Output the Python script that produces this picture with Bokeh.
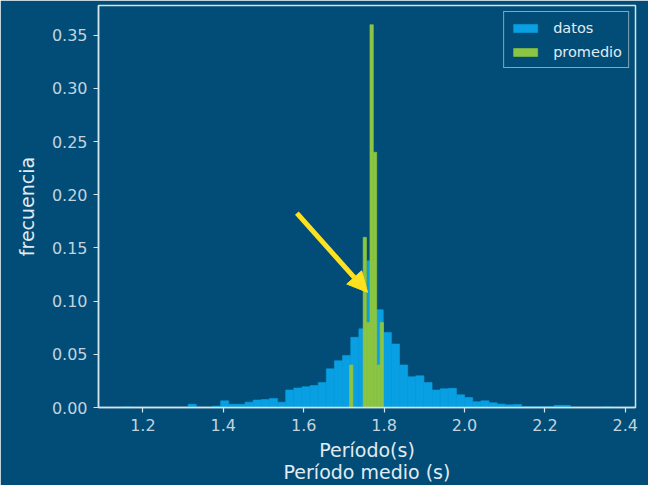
import numpy as np
from bokeh.plotting import figure
from bokeh.models import Range1d, FixedTicker, NumeralTickFormatter, Arrow, NormalHead, ColumnDataSource
from bokeh.embed import file_html
from bokeh.resources import INLINE

# ---- data ----
datos_inicio = 1.1505
datos_fin = 2.3645
datos_frecuencia = [
    0.0005, 0, 0, 0, 0, 0, 0, 0, 0.003, 0,
    0, 0.0013, 0.0063, 0.003, 0.003, 0.005, 0.007, 0.0075, 0.0085, 0.005,
    0.0164, 0.0183, 0.0195, 0.0207, 0.0235, 0.0364, 0.044, 0.049, 0.066, 0.074,
    0.138, 0.092, 0.0706, 0.0597, 0.040, 0.0289, 0.0298, 0.0235, 0.0164, 0.0176,
    0.018, 0.012, 0.0094, 0.0054, 0.0063, 0.0044, 0.0032, 0.0025, 0.0028, 0.0006,
    0.0006, 0.0006, 0.0006, 0.002, 0.002, 0, 0, 0, 0, 0.0005,
]
promedio_inicio = 1.7140
promedio_fin = 1.7987
promedio_frecuencia = [0.04, 0, 0, 0, 0.16, 0.08, 0.36, 0.24, 0.04, 0.08]

x_ticks = [1.2, 1.4, 1.6, 1.8, 2.0, 2.2, 2.4]
y_ticks = [0.0, 0.05, 0.10, 0.15, 0.20, 0.25, 0.30, 0.35]

flecha_punta = (1.7588, 0.1083)
flecha_cola = (1.583, 0.1827)

X_MIN, X_MAX = 1.0895, 2.4255

# ---- styles ----
BG = "#014d77"
AZUL = "#08a0e2"
VERDE = "#8cc541"
AMARILLO = "#ffe11f"
SPINE = "#d4e2ea"
TICKTXT = "#c3d3de"
LABTXT = "#e2ebf1"
FONT = "DejaVu Sans"

d_edges = np.linspace(datos_inicio, datos_fin, len(datos_frecuencia) + 1)
p_edges = np.linspace(promedio_inicio, promedio_fin, len(promedio_frecuencia) + 1)

src_d = ColumnDataSource(dict(left=d_edges[:-1], right=d_edges[1:], top=datos_frecuencia))
src_p = ColumnDataSource(dict(left=p_edges[:-1], right=p_edges[1:], top=promedio_frecuencia))

p = figure(width=648, height=485, output_backend="svg", toolbar_location=None, title=None,
           x_range=Range1d(X_MIN, X_MAX), y_range=Range1d(0, 0.378),
           min_border_left=98, min_border_right=13, min_border_top=5, min_border_bottom=78,
           background_fill_color=BG, border_fill_color=BG,
           outline_line_color=SPINE, outline_line_width=1.5)

p.quad(left="left", right="right", bottom=0, top="top", source=src_d,
       fill_color=AZUL, line_color=AZUL, line_width=0.6, legend_label="datos")
p.quad(left="left", right="right", bottom=0, top="top", source=src_p,
       fill_color=VERDE, line_color=VERDE, line_width=0.6, legend_label="promedio")

p.add_layout(Arrow(end=NormalHead(size=20, fill_color=AMARILLO, line_color=AMARILLO),
                   x_start=flecha_cola[0], y_start=flecha_cola[1],
                   x_end=flecha_punta[0], y_end=flecha_punta[1],
                   line_color=AMARILLO, line_width=5))

p.xgrid.visible = False
p.ygrid.visible = False

for ax in (p.xaxis[0], p.yaxis[0]):
    ax.axis_line_color = SPINE
    ax.axis_line_width = 1.5
    ax.major_tick_line_color = SPINE
    ax.major_tick_line_width = 1.2
    ax.major_tick_out = 5
    ax.major_tick_in = 0
    ax.minor_tick_line_color = None
    ax.major_label_text_color = TICKTXT
    ax.major_label_text_font = FONT
    ax.major_label_text_font_size = "16px"
    ax.axis_label_text_color = LABTXT
    ax.axis_label_text_font = FONT
    ax.axis_label_text_font_size = "19px"
    ax.axis_label_text_font_style = "normal"

p.xaxis[0].ticker = FixedTicker(ticks=x_ticks)
p.xaxis[0].formatter = NumeralTickFormatter(format="0.0")
p.xaxis[0].major_label_standoff = 6
p.xaxis[0].axis_label = "Período(s)\nPeríodo medio (s)"
p.xaxis[0].axis_label_text_line_height = 1.0
p.xaxis[0].axis_label_text_align = "center"
p.xaxis[0].axis_label_standoff = 5

p.yaxis[0].ticker = FixedTicker(ticks=y_ticks)
p.yaxis[0].formatter = NumeralTickFormatter(format="0.00")
p.yaxis[0].major_label_standoff = 6
p.yaxis[0].axis_label = "frecuencia"
p.yaxis[0].axis_label_standoff = 11

lg = p.legend[0]
lg.location = "top_right"
lg.margin = 6
lg.padding = 6
lg.spacing = 5
lg.label_height = 19
lg.glyph_height = 10
lg.glyph_width = 30
lg.label_standoff = 13
lg.label_text_font = FONT
lg.label_text_font_size = "14.5px"
lg.label_text_color = LABTXT
lg.background_fill_color = BG
lg.background_fill_alpha = 0.85
lg.border_line_color = "#a6bccb"
lg.border_line_alpha = 0.8
lg.border_line_width = 1.3

open("out.html", "w").write(file_html(p, INLINE))
